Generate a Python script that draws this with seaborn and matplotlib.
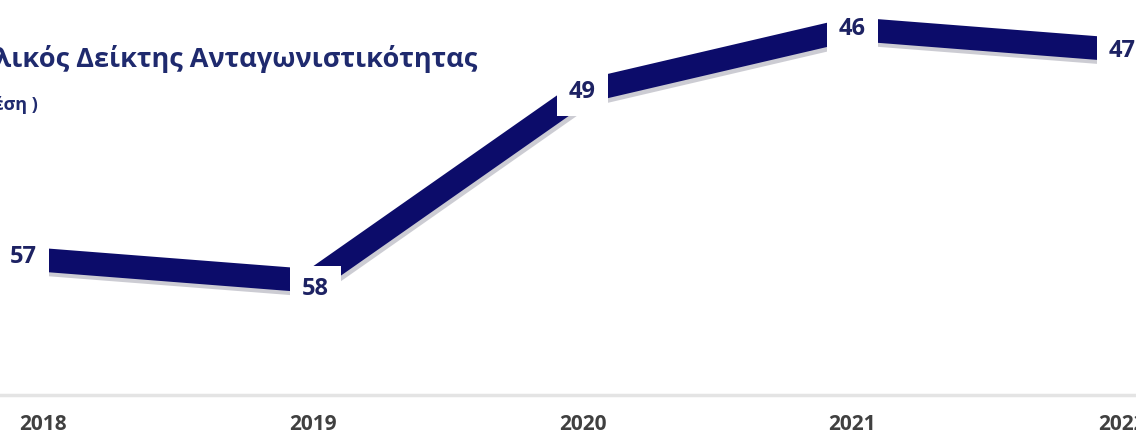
import matplotlib
matplotlib.use("Agg")
import matplotlib.pyplot as plt
import matplotlib.patheffects as pe
import seaborn as sns
import pandas as pd

# ── Data ────────────────────────────────────────────────────────────────────
YEARS = [2018, 2019, 2020, 2021, 2022]
RANKS = [57, 58, 49, 46, 47]
TITLE = "Συνολικός Δείκτης Ανταγωνιστικότητας"
SUBTITLE = "(Κατάταξη / θέση )"

NAVY = "#0c0c6a"
LABEL_NAVY = "#1d2263"

sns.set_theme(style="white")
plt.rcParams["font.family"] = ["Open Sans", "DejaVu Sans"]

df = pd.DataFrame({"year": YEARS, "rank": RANKS})

fig = plt.figure(figsize=(11.36, 4.43), dpi=100)
ax = fig.add_axes([0, 48 / 443, 1, 395 / 443])

sns.lineplot(data=df, x="year", y="rank", ax=ax, color=NAVY, linewidth=17,
             solid_capstyle="butt", solid_joinstyle="miter",
             path_effects=[pe.SimpleLineShadow(offset=(1.5, -3), shadow_color="#9a9aa8", alpha=0.5),
                           pe.Normal()])

# value labels on white boxes that break the line
offsets = [(-14, 2), (2, -6), (0, 0), (0, 0), (0, -1)]
for (yr, rk), (dx, dy) in zip(zip(YEARS, RANKS), offsets):
    ax.annotate(str(rk), (yr, rk), xytext=(dx, dy), textcoords="offset points",
                ha="center", va="center", fontsize=17, fontweight="bold",
                color=LABEL_NAVY, zorder=5,
                bbox=dict(boxstyle="square,pad=0.5", fc="white", ec="none"))

# scales: rank axis inverted (better rank on top)
ax.set_xlim(2017.841, 2022.052)
ax.set_ylim(63.43, 44.62)

ax.set_xticks(YEARS)
ax.set_xticklabels([str(y) for y in YEARS], fontsize=15, fontweight="bold", color="#404040")
ax.tick_params(axis="x", length=0, pad=14)
ax.set_yticks([])
ax.set_xlabel("")
ax.set_ylabel("")

for side in ["top", "left", "right"]:
    ax.spines[side].set_visible(False)
ax.spines["bottom"].set_color("#e4e4e4")
ax.spines["bottom"].set_linewidth(2.5)

# title block (clipped on the left like the source crop)
fig.text(477 / 1136, 1 - 59 / 443, TITLE, ha="right", va="center",
         fontsize=19.5, fontweight="bold", color="#1f2a6e")
fig.text(38 / 1136, 1 - 105 / 443, SUBTITLE, ha="right", va="center",
         fontsize=13, fontweight="bold", color="#1f2a6e")

fig.savefig("out.png", dpi=100)
